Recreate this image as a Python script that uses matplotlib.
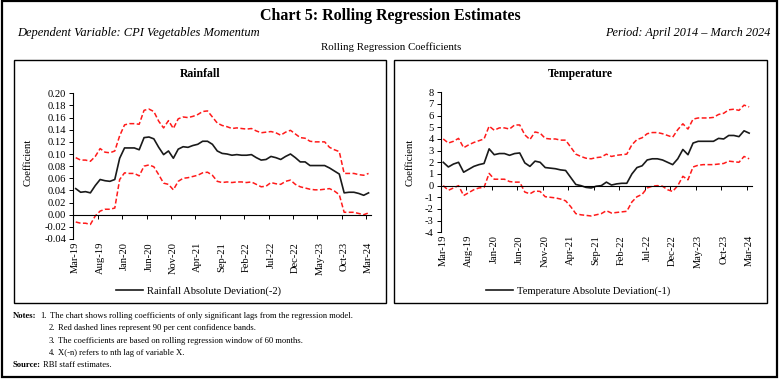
import numpy as np
import matplotlib
matplotlib.use('Agg')
import matplotlib.pyplot as plt
from matplotlib.patches import Rectangle

plt.rcParams['font.family'] = ['Liberation Serif', 'DejaVu Serif']

# monthly rolling estimates, Mar-19 .. Mar-24 (61 points)
months = ['Mar-19', 'Aug-19', 'Jan-20', 'Jun-20', 'Nov-20', 'Apr-21', 'Sep-21',
          'Feb-22', 'Jul-22', 'Dec-22', 'May-23', 'Oct-23', 'Mar-24']

rain_coef = [0.043, 0.037, 0.038, 0.036, 0.048, 0.058, 0.056, 0.055, 0.058, 0.093,
             0.110, 0.110, 0.110, 0.107, 0.127, 0.128, 0.125, 0.111, 0.099, 0.105,
             0.093, 0.108, 0.112, 0.111, 0.114, 0.116, 0.121, 0.121, 0.116, 0.105,
             0.101, 0.100, 0.098, 0.099, 0.098, 0.098, 0.099, 0.094, 0.090, 0.091,
             0.096, 0.094, 0.091, 0.096, 0.100, 0.094, 0.087, 0.087, 0.081, 0.081,
             0.081, 0.081, 0.077, 0.072, 0.067, 0.036, 0.037, 0.037, 0.035, 0.032,
             0.036]
rain_upper = [0.094, 0.090, 0.090, 0.088, 0.096, 0.109, 0.103, 0.102, 0.105, 0.130,
              0.148, 0.150, 0.150, 0.149, 0.172, 0.174, 0.170, 0.154, 0.143, 0.155,
              0.142, 0.158, 0.161, 0.160, 0.162, 0.165, 0.170, 0.171, 0.161, 0.151,
              0.147, 0.145, 0.142, 0.143, 0.142, 0.141, 0.142, 0.138, 0.135, 0.136,
              0.137, 0.135, 0.131, 0.136, 0.139, 0.133, 0.127, 0.126, 0.121, 0.120,
              0.120, 0.120, 0.111, 0.107, 0.104, 0.068, 0.068, 0.068, 0.066, 0.065,
              0.068]
rain_lower = [-0.012, -0.014, -0.014, -0.016, -0.002, 0.006, 0.009, 0.009, 0.011, 0.058,
              0.069, 0.068, 0.068, 0.064, 0.080, 0.082, 0.079, 0.066, 0.052, 0.050,
              0.041, 0.055, 0.060, 0.061, 0.063, 0.065, 0.069, 0.070, 0.065, 0.055,
              0.053, 0.054, 0.053, 0.054, 0.054, 0.053, 0.054, 0.050, 0.046, 0.047,
              0.053, 0.051, 0.050, 0.055, 0.057, 0.050, 0.046, 0.044, 0.042, 0.041,
              0.041, 0.042, 0.043, 0.039, 0.033, 0.004, 0.004, 0.004, 0.002, 0.000,
              0.003]

temp_coef = [2.0, 1.6, 1.85, 2.0, 1.15, 1.4, 1.65, 1.8, 1.9, 3.15,
             2.65, 2.75, 2.75, 2.6, 2.75, 2.8, 1.95, 1.65, 2.1, 2.0,
             1.55, 1.5, 1.45, 1.35, 1.3, 0.7, 0.1, 0.0, -0.15, -0.2,
             -0.05, 0.0, 0.3, 0.05, 0.15, 0.2, 0.2, 1.0, 1.55, 1.7,
             2.2, 2.3, 2.3, 2.2, 2.0, 1.8, 2.3, 3.1, 2.65, 3.65,
             3.8, 3.8, 3.8, 3.8, 4.05, 4.0, 4.3, 4.3, 4.2, 4.7,
             4.5]
temp_upper = [4.0, 3.65, 3.8, 4.05, 3.25, 3.5, 3.7, 3.85, 4.0, 5.1,
              4.75, 4.95, 4.95, 4.85, 5.2, 5.2, 4.35, 3.95, 4.6, 4.5,
              4.05, 4.0, 4.0, 3.9, 3.9, 3.3, 2.7, 2.5, 2.35, 2.3,
              2.4, 2.45, 2.7, 2.5, 2.6, 2.65, 2.7, 3.5, 3.95, 4.1,
              4.45, 4.55, 4.55, 4.45, 4.3, 4.15, 4.8, 5.3, 4.85, 5.7,
              5.8, 5.8, 5.8, 5.85, 6.1, 6.2, 6.5, 6.55, 6.45, 6.9,
              6.75]
temp_lower = [0.0, -0.4, -0.2, 0.0, -0.85, -0.6, -0.35, -0.2, -0.15, 1.05,
              0.55, 0.55, 0.55, 0.35, 0.3, 0.3, -0.55, -0.7, -0.45, -0.5,
              -0.95, -1.0, -1.05, -1.15, -1.3, -1.8, -2.4, -2.5, -2.55, -2.6,
              -2.5, -2.4, -2.15, -2.35, -2.3, -2.25, -2.2, -1.4, -0.95, -0.75,
              -0.2, -0.05, 0.0, -0.05, -0.35, -0.5, 0.0, 0.8, 0.5, 1.6,
              1.75, 1.8, 1.8, 1.8, 1.85, 1.9, 2.1, 2.05, 2.0, 2.5,
              2.3]

W, H = 781, 380
fig = plt.figure(figsize=(W / 100, H / 100), dpi=100)


def box(x0, y0, x1, y1):
    # pixel box (top-left origin) -> figure fraction rect
    return [x0 / W, 1 - y1 / H, (x1 - x0) / W, (y1 - y0) / H]


def txt(x, y, s, **kw):
    fig.text(x / W, 1 - y / H, s, **kw)


# frames
fig.add_artist(Rectangle((2 / W, 1 - 377 / H), 775 / W, 376 / H, transform=fig.transFigure,
                         fill=False, lw=1.6, ec='black'))
fig.add_artist(Rectangle((14 / W, 1 - 303 / H), 372 / W, 243 / H, transform=fig.transFigure,
                         fill=False, lw=1.0, ec='black'))
fig.add_artist(Rectangle((394 / W, 1 - 303 / H), 373 / W, 243 / H, transform=fig.transFigure,
                         fill=False, lw=1.0, ec='black'))

txt(390, 16, 'Chart 5: Rolling Regression Estimates', ha='center', va='center',
    fontsize=11.5, fontweight='bold')
txt(17, 33, 'Dependent Variable: CPI Vegetables Momentum', ha='left', va='center',
    fontsize=9.0, style='italic')
txt(770, 33, 'Period: April 2014 \u2013 March 2024', ha='right', va='center',
    fontsize=8.8, style='italic')
txt(391, 47, 'Rolling Regression Coefficients', ha='center', va='center', fontsize=7.8)


def panel(rect, title, title_xy, coef, upper, lower, ylim, yticks, yfmt, label, leg_xy, ylab_x):
    ax = fig.add_axes(rect)
    x = np.arange(len(coef)) + 0.5
    ax.plot(x, upper, color='#ff1a1a', lw=1.1, dashes=(3.2, 1.6))
    ax.plot(x, lower, color='#ff1a1a', lw=1.1, dashes=(3.2, 1.6))
    ax.plot(x, coef, color='#1a1a1a', lw=1.2, label=label)
    ax.set_xlim(0, len(coef))
    ax.set_ylim(*ylim)
    for s in ['top', 'right']:
        ax.spines[s].set_visible(False)
    ax.spines['bottom'].set_position(('data', 0))
    ax.spines['left'].set_linewidth(0.8)
    ax.spines['bottom'].set_linewidth(0.8)
    ax.set_yticks(yticks)
    ax.set_yticklabels([yfmt.format(v) for v in yticks], fontsize=7.6)
    ax.tick_params(axis='y', direction='out', length=3, width=0.7, pad=2)
    ax.set_xticks(np.arange(0, len(coef) + 1, 5))
    ax.tick_params(axis='x', which='major', direction='out', length=3, width=0.7,
                   labelbottom=False)
    # category labels sit below the plot area
    for i, lab in enumerate(months):
        ax.text(i * 5 + 0.5, -0.02, lab, transform=ax.get_xaxis_transform(),
                rotation=90, ha='center', va='top', fontsize=7.6)
    txt(ylab_x, 162, 'Coefficient', rotation=90, ha='center', va='center', fontsize=7.6)
    txt(title_xy[0], title_xy[1], title, ha='center', va='center', fontsize=8.5,
        fontweight='bold')
    ax.legend(loc='center left', bbox_to_anchor=(leg_xy[0] / W, 1 - leg_xy[1] / H),
              bbox_transform=fig.transFigure, frameon=False, fontsize=7.6,
              handlelength=2.6, handletextpad=0.3, borderpad=0, borderaxespad=0)
    return ax


panel(box(73.3, 93.3, 371, 239), 'Rainfall', (200, 74), rain_coef, rain_upper, rain_lower,
      (-0.04, 0.20), np.round(np.arange(-0.04, 0.201, 0.02), 2), '{:.2f}',
      'Rainfall Absolute Deviation(-2)', (116, 291), 28)
panel(box(440.7, 92.3, 751.7, 232.3), 'Temperature', (580, 74), temp_coef, temp_upper,
      temp_lower, (-4, 8), np.arange(-4, 9, 1), '{:d}',
      'Temperature Absolute Deviation(-1)', (486, 291), 410)

# notes
fs = 6.2
txt(13, 316, 'Notes:', fontsize=fs, fontweight='bold', va='center')
notes = ['The chart shows rolling coefficients of only significant lags from the regression model.',
         'Red dashed lines represent 90 per cent confidence bands.',
         'The coefficients are based on rolling regression window of 60 months.',
         'X(-n) refers to nth lag of variable X.']
note_y = [316, 328.5, 341, 353]
for k, (s, yy) in enumerate(zip(notes, note_y)):
    nx, tx = (40, 50) if k == 0 else (49, 58)
    txt(nx, yy, f'{k + 1}.', fontsize=fs, va='center')
    txt(tx, yy, s, fontsize=fs, va='center')
txt(13, 365, 'Source:', fontsize=fs, fontweight='bold', va='center')
txt(43, 365, 'RBI staff estimates.', fontsize=fs, va='center')

fig.savefig('out.png', dpi=100)
